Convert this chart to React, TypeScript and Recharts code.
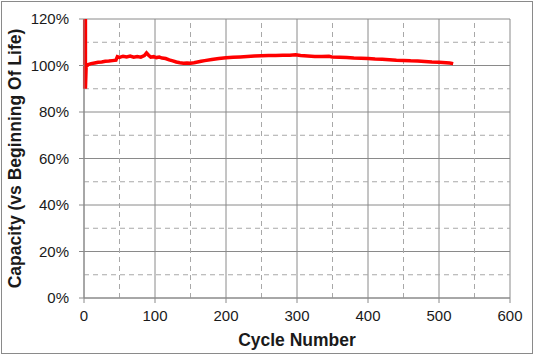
import { CartesianGrid, Line, LineChart, ReferenceLine, XAxis, YAxis } from "recharts";

// cycle number vs capacity (% of beginning of life)
const cycles = [
  1, 1, 2, 2, 3, 6, 10, 15, 20, 25, 30, 35, 40, 45, 47, 50, 55, 60, 65, 70, 75,
  80, 85, 88, 91, 94, 98, 102, 106, 110, 115, 120, 125, 130, 135, 140, 145, 150,
  155, 160, 165, 170, 180, 190, 200, 210, 220, 230, 240, 250, 260, 270, 280, 290,
  298, 305, 315, 325, 335, 345, 350, 360, 370, 380, 390, 400, 410, 420, 430, 440,
  450, 460, 470, 480, 490, 500, 510, 515, 520,
];
const capacity = [
  120, 90, 120, 90, 99.6, 100.4, 100.8, 101.1, 101.4, 101.5, 101.8, 101.9, 102.1,
  102.3, 103.8, 103.5, 104.0, 103.7, 104.1, 103.6, 103.9, 103.6, 104.3, 105.4,
  104.4, 103.6, 103.8, 103.4, 103.6, 103.2, 103.0, 102.4, 102.0, 101.5, 101.2,
  101.0, 101.1, 101.0, 101.2, 101.5, 101.8, 102.1, 102.6, 103.0, 103.3, 103.5,
  103.7, 103.9, 104.1, 104.2, 104.3, 104.3, 104.4, 104.4, 104.6, 104.3, 104.1,
  103.9, 103.9, 104.0, 103.6, 103.5, 103.4, 103.2, 103.1, 103.0, 102.8, 102.7,
  102.5, 102.3, 102.2, 102.0, 101.9, 101.7, 101.5, 101.4, 101.2, 101.1, 100.8,
];

const xTicks = [0, 100, 200, 300, 400, 500, 600];
const yTicks = [0, 20, 40, 60, 80, 100, 120];
const xMinor = [50, 150, 250, 350, 450, 550];
const yMinor = [10, 30, 50, 70, 90, 110];

const data = cycles.map((c, i) => ({ cycle: c, cap: capacity[i] }));

const FONT = "'Liberation Sans', Arial, sans-serif";
const MAJOR = "#8a8a8a";
const MINOR = "#a8a8a8";

export default function App() {
  return (
    <div style={{ position: "absolute", left: 0, top: 0, width: 535, height: 356, background: "#fff" }}>
      <div
        style={{
          position: "absolute",
          left: 1,
          top: 1,
          width: 532,
          height: 353,
          border: "1px solid #8a8a8a",
          boxSizing: "border-box",
        }}
      />
      <LineChart
        width={535}
        height={356}
        data={data}
        margin={{ top: 19, right: 25, bottom: 0, left: 0 }}
        style={{ position: "absolute", left: 0, top: 0, fontFamily: FONT }}
      >
        {xMinor.map((v) => (
          <ReferenceLine key={"x" + v} x={v} stroke={MINOR} strokeDasharray="5 4" />
        ))}
        {yMinor.map((v) => (
          <ReferenceLine key={"y" + v} y={v} stroke={MINOR} strokeDasharray="5 4" />
        ))}
        <CartesianGrid stroke={MAJOR} strokeDasharray="0" />
        <XAxis
          dataKey="cycle"
          type="number"
          domain={[0, 600]}
          ticks={xTicks}
          height={58}
          tickSize={5}
          tickMargin={7}
          stroke={MAJOR}
          tick={{ fill: "#1a1a1a", fontSize: 15, fontFamily: FONT }}
          label={{
            value: "Cycle Number",
            position: "insideBottom",
            offset: 10,
            style: { fill: "#1a1a1a", fontSize: 17.5, fontWeight: "bold", fontFamily: FONT },
          }}
        />
        <YAxis
          type="number"
          domain={[0, 120]}
          ticks={yTicks}
          width={84}
          tickSize={5}
          tickMargin={10}
          stroke={MAJOR}
          tickFormatter={(v) => `${v}%`}
          tick={{ fill: "#1a1a1a", fontSize: 15, fontFamily: FONT }}
          label={{
            value: "Capacity (vs Beginning Of Life)",
            angle: -90,
            position: "insideLeft",
            offset: 15,
            style: {
              fill: "#1a1a1a",
              fontSize: 17.5,
              fontWeight: "bold",
              fontFamily: FONT,
              textAnchor: "middle",
            },
          }}
        />
        <Line
          dataKey="cap"
          type="linear"
          stroke="#ff0000"
          strokeWidth={3.5}
          dot={false}
          activeDot={false}
          isAnimationActive={false}
        />
      </LineChart>
    </div>
  );
}
